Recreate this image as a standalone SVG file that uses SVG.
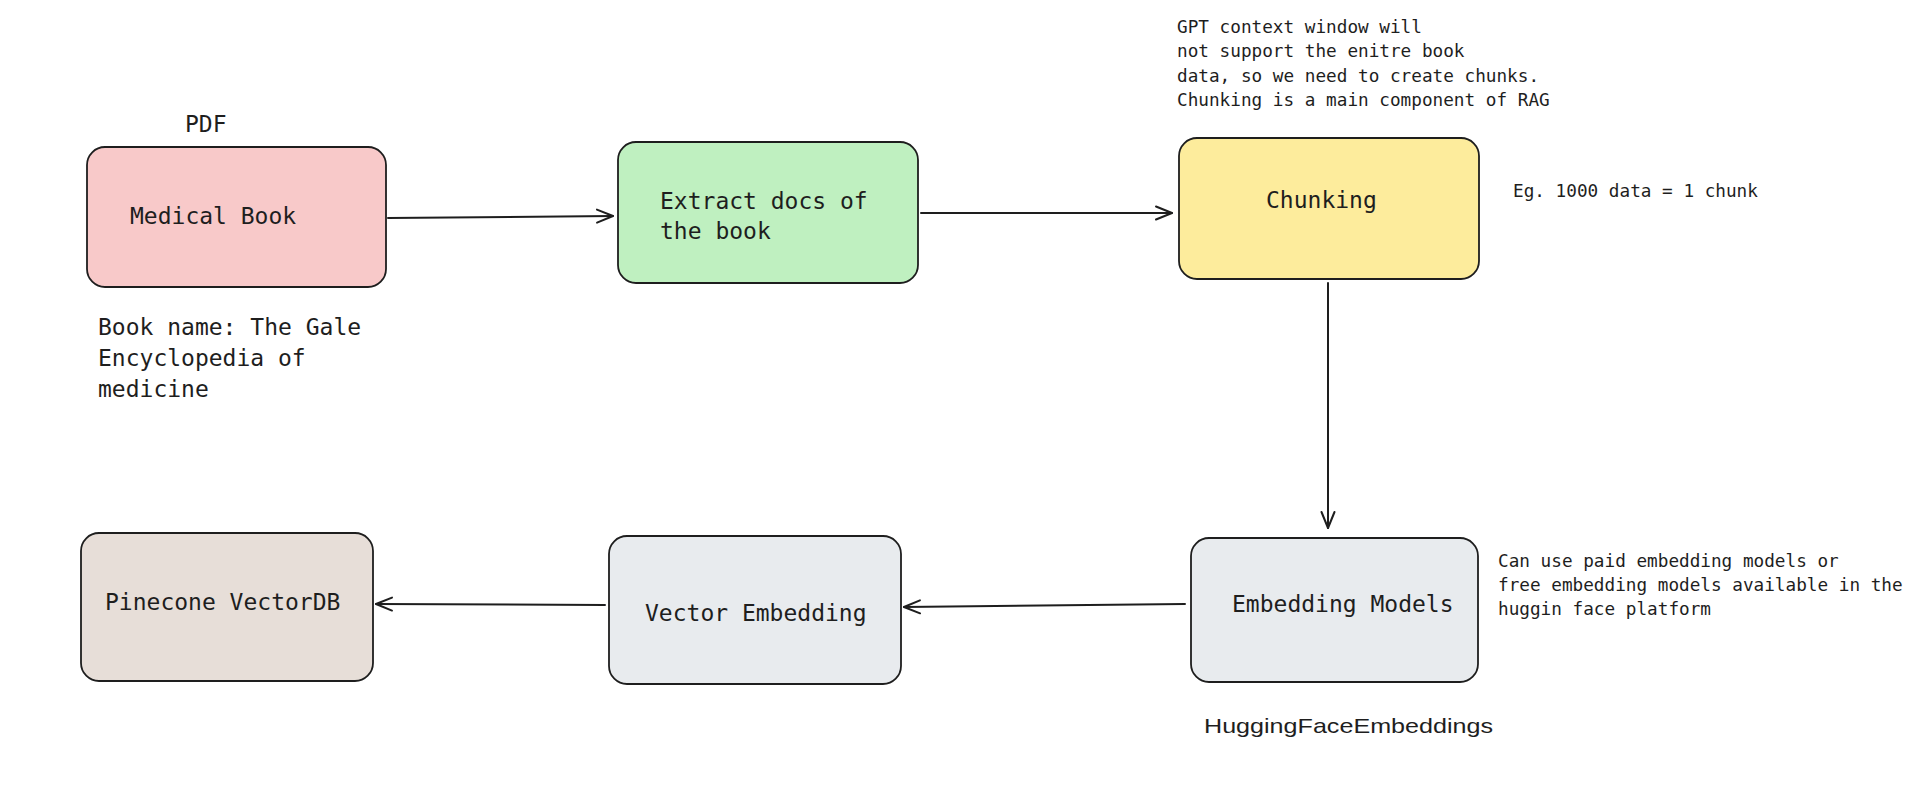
<svg xmlns="http://www.w3.org/2000/svg" width="1932" height="796" viewBox="0 0 1932 796">
<defs>
<marker id="ah" markerUnits="userSpaceOnUse" markerWidth="24" markerHeight="20" viewBox="-20 -10 24 20" refX="0" refY="0" orient="auto">
<path d="M -16 -6.5 L 0 0 L -16 6.5" fill="none" stroke="#1e1e1e" stroke-width="2" stroke-linecap="round" stroke-linejoin="round"/>
</marker>
</defs>
<style>
.box{stroke:#1e1e1e;stroke-width:1.8}
.t{font-family:"DejaVu Sans Mono","Liberation Mono",monospace;font-size:23px;fill:#1e1e1e}
.s{font-family:"DejaVu Sans Mono","Liberation Mono",monospace;font-size:17.7px;fill:#1e1e1e}
.h{font-family:"Liberation Sans","DejaVu Sans",sans-serif;font-size:21px;fill:#1e1e1e}
.c{fill:none;stroke:#1e1e1e;stroke-width:2;stroke-linecap:round}
</style>
<rect width="1932" height="796" fill="#ffffff"/>
<g id="medical-book">
<rect class="box" x="87" y="147" width="299" height="140" rx="18" fill="#f8c9c9"/>
<text class="t" x="130" y="224">Medical Book</text>
</g>
<g id="pdf-label"><text class="t" x="185" y="132">PDF</text></g>
<g id="book-name-label">
<text class="t" x="98" y="335">Book name: The Gale</text>
<text class="t" x="98" y="366">Encyclopedia of</text>
<text class="t" x="98" y="397">medicine</text>
</g>
<g id="extract-docs">
<rect class="box" x="618" y="142" width="300" height="141" rx="18" fill="#bff0c0"/>
<text class="t" x="660" y="209">Extract docs of</text>
<text class="t" x="660" y="239">the book</text>
</g>
<g id="chunking">
<rect class="box" x="1179" y="138" width="300" height="141" rx="18" fill="#fdec9c"/>
<text class="t" x="1266" y="208">Chunking</text>
</g>
<g id="gpt-note">
<text class="s" x="1177" y="33">GPT context window will</text>
<text class="s" x="1177" y="57">not support the enitre book</text>
<text class="s" x="1177" y="82">data, so we need to create chunks.</text>
<text class="s" x="1177" y="106">Chunking is a main component of RAG</text>
</g>
<g id="eg-note"><text class="s" x="1513" y="197">Eg. 1000 data = 1 chunk</text></g>
<g id="embedding-models">
<rect class="box" x="1191" y="538" width="287" height="144" rx="18" fill="#e8ebee"/>
<text class="t" x="1232" y="612">Embedding Models</text>
</g>
<g id="embedding-note">
<text class="s" x="1498" y="567">Can use paid embedding models or</text>
<text class="s" x="1498" y="591">free embedding models available in the</text>
<text class="s" x="1498" y="615">huggin face platform</text>
</g>
<g id="hf-label"><text class="h" x="1204" y="733" textLength="289" lengthAdjust="spacingAndGlyphs">HuggingFaceEmbeddings</text></g>
<g id="vector-embedding">
<rect class="box" x="609" y="536" width="292" height="148" rx="18" fill="#e8ebee"/>
<text class="t" x="645" y="621">Vector Embedding</text>
</g>
<g id="pinecone">
<rect class="box" x="81" y="533" width="292" height="148" rx="18" fill="#e7ded8"/>
<text class="t" x="105" y="610">Pinecone VectorDB</text>
</g>
<g id="connectors">
<path class="c" d="M 388 218 L 613 216" marker-end="url(#ah)"/>
<path class="c" d="M 921 213 L 1172 213" marker-end="url(#ah)"/>
<path class="c" d="M 1328 283 L 1328 528" marker-end="url(#ah)"/>
<path class="c" d="M 1185 604 L 904 607" marker-end="url(#ah)"/>
<path class="c" d="M 605 605 L 376 604" marker-end="url(#ah)"/>
</g>
</svg>
